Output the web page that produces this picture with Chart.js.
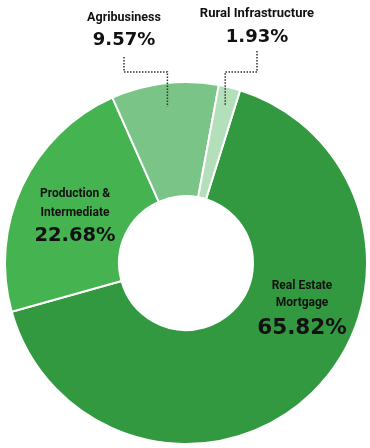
<!DOCTYPE html>
<html>
<head>
<meta charset="utf-8">
<script src="https://cdn.jsdelivr.net/npm/chart.js@4.4.1/dist/chart.umd.min.js"></script>
<style>
  html, body { margin: 0; padding: 0; background: #fff; }
  #wrap { width: 370px; height: 448px; position: relative; }
</style>
</head>
<body>
<div id="wrap"><canvas id="loanMix"></canvas></div>
<script>
// data
const categories = ["Real Estate Mortgage", "Production & Intermediate", "Agribusiness", "Rural Infrastructure"];
const shares = [65.82, 22.68, 9.57, 1.93];
const sliceColors = ["#339941", "#45b350", "#7bc487", "#b3dfba"];

// label lines for each slice (inside ones sit on the ring, outside ones up top)
const labelLines = [["Real Estate", "Mortgage"], ["Production &", "Intermediate"], ["Agribusiness"], ["Rural Infrastructure"]];

const labelPlugin = {
  id: "sliceLabels",
  afterDraw(chart) {
    const ctx = chart.ctx;
    const arcs = chart.getDatasetMeta(0).data;
    ctx.save();
    ctx.textAlign = "center";
    ctx.textBaseline = "middle";
    ctx.fillStyle = "#111";

    const drawBlock = (lines, pct, x, yTop, lineGap, pctGap, txtSize, pctSize) => {
      ctx.font = "bold " + txtSize + "px Roboto, 'Liberation Sans', sans-serif";
      lines.forEach((t, i) => ctx.fillText(t, x, yTop + i * lineGap));
      ctx.font = "bold " + pctSize + "px 'DejaVu Sans', sans-serif";
      ctx.fillText(pct.toFixed(2) + "%", x, yTop + (lines.length - 1) * lineGap + pctGap);
    };

    const a0 = arcs[0];
    const cx = a0.x, cy = a0.y;
    // inside labels
    drawBlock(labelLines[0], shares[0], cx + 116, cy + 23, 17, 25, 12, 21.5);
    drawBlock(labelLines[1], shares[1], cx - 111, cy - 69, 19, 23, 12, 19.5);
    // outside labels
    drawBlock(labelLines[2], shares[2], 124, 18, 18, 22, 12.5, 18);
    drawBlock(labelLines[3], shares[3], 257, 14, 18, 23, 13, 18);

    // dotted leader lines
    ctx.strokeStyle = "#333";
    ctx.lineWidth = 1.5;
    ctx.setLineDash([1.5, 1.5]);
    const leader = (arc, r, topX, topY, elbowY) => {
      const mid = (arc.startAngle + arc.endAngle) / 2;
      const px = arc.x + Math.cos(mid) * r;
      const py = arc.y + Math.sin(mid) * r;
      ctx.beginPath();
      ctx.moveTo(topX, topY);
      ctx.lineTo(topX, elbowY);
      ctx.lineTo(px, elbowY);
      ctx.lineTo(px, py);
      ctx.stroke();
    };
    leader(arcs[2], arcs[2].outerRadius * 0.87, 124, 57, 72);
    leader(arcs[3], arcs[3].outerRadius * 0.9, 257, 51, 72);
    ctx.restore();
  }
};

new Chart(document.getElementById("loanMix").getContext("2d"), {
  type: "doughnut",
  data: {
    labels: categories,
    datasets: [
      {
        data: shares,
        backgroundColor: sliceColors,
        borderColor: "#ffffff",
        borderWidth: 2,
      },
    ],
  },
  options: {
    responsive: true,
    maintainAspectRatio: false,
    animation: false,
    rotation: 17.4,
    cutout: "37%",
    layout: {
      padding: { top: 81, right: 2, bottom: 3, left: 4 },
    },
    plugins: {
      legend: { display: false },
      tooltip: { enabled: false },
    },
  },
  plugins: [labelPlugin],
});
</script>
</body>
</html>
